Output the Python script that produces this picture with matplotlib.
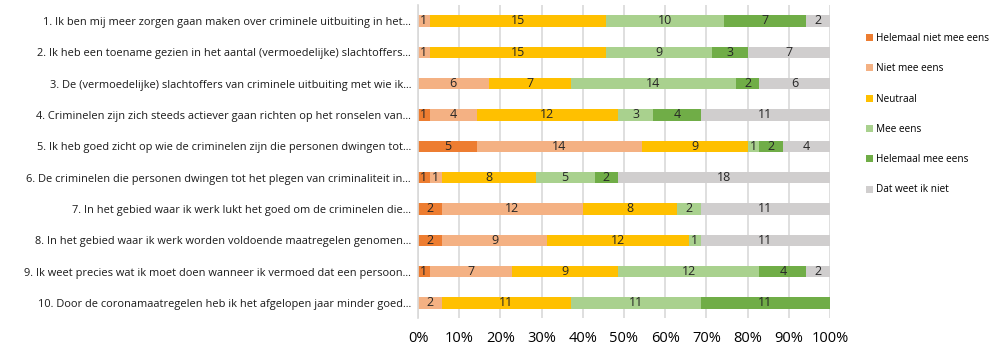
import matplotlib
matplotlib.use("Agg")
import matplotlib.pyplot as plt
import numpy as np
from matplotlib.patches import Patch

categories = [
    "1. Ik ben mij meer zorgen gaan maken over criminele uitbuiting in het...",
    "2. Ik heb een toename gezien in het aantal (vermoedelijke) slachtoffers...",
    "3. De (vermoedelijke) slachtoffers van criminele uitbuiting met wie ik...",
    "4. Criminelen zijn zich steeds actiever gaan richten op het ronselen van...",
    "5. Ik heb goed zicht op wie de criminelen zijn die personen dwingen tot...",
    "6. De criminelen die personen dwingen tot het plegen van criminaliteit in...",
    "7. In het gebied waar ik werk lukt het goed om de criminelen die...",
    "8. In het gebied waar ik werk worden voldoende maatregelen genomen...",
    "9. Ik weet precies wat ik moet doen wanneer ik vermoed dat een persoon...",
    "10. Door de coronamaatregelen heb ik het afgelopen jaar minder goed...",
]
series_names = ["Helemaal niet mee eens", "Niet mee eens", "Neutraal",
                "Mee eens", "Helemaal mee eens", "Dat weet ik niet"]
helemaal_niet = [0, 0, 0, 1, 5, 1, 2, 2, 1, 0]
niet = [1, 1, 6, 4, 14, 1, 12, 9, 7, 2]
neutraal = [15, 15, 7, 12, 9, 8, 8, 12, 9, 11]
mee = [10, 9, 14, 3, 1, 5, 2, 1, 12, 11]
helemaal_mee = [7, 3, 2, 4, 2, 2, 0, 0, 4, 11]
weet_niet = [2, 7, 6, 11, 4, 18, 11, 11, 2, 0]
tick_labels = ["0%", "10%", "20%", "30%", "40%", "50%", "60%", "70%", "80%", "90%", "100%"]

colors = ["#ED7D31", "#F4B183", "#FFC000", "#A9D18E", "#70AD47", "#D0CECE"]

plt.rcParams['font.family'] = ['Open Sans', 'DejaVu Sans']

data = np.array([helemaal_niet, niet, neutraal, mee, helemaal_mee, weet_niet], dtype=float)
totals = data.sum(axis=0)
frac = data / totals

fig = plt.figure(figsize=(9.96, 3.47), dpi=100)
ax = fig.add_axes([418/996, (347-318)/347, (830-418)/996, (318-5)/347])

y = np.arange(len(categories))
left = np.zeros(len(categories))
for i in range(len(series_names)):
    ax.barh(y, frac[i], left=left, height=0.37, color=colors[i], label=series_names[i], zorder=2)
    for j in range(len(categories)):
        if data[i, j] > 0:
            ax.text(left[j] + frac[i, j] / 2, y[j], f"{int(data[i, j])}", ha='center', va='center',
                    fontsize=9, color='#262626', zorder=3)
    left += frac[i]

ax.set_xlim(0, 1)
ax.set_ylim(9.48, -0.51)
ax.set_xticks(np.linspace(0, 1, 11))
ax.set_xticklabels(tick_labels, fontsize=10.5, color='#000000')
ax.set_yticks(y)
ax.set_yticklabels(categories, fontsize=7.9, color='#1a1a1a')
ax.tick_params(axis='both', length=0)
ax.tick_params(axis='x', pad=9)
ax.tick_params(axis='y', pad=5)
ax.grid(axis='x', color='#D9D9D9', linewidth=1.2, zorder=0)
for s in ['top', 'right', 'bottom']:
    ax.spines[s].set_visible(False)
ax.spines['left'].set_color('#D9D9D9')
ax.spines['left'].set_linewidth(1.2)

handles = [Patch(facecolor=c, edgecolor='none') for c in colors]
fig.legend(handles, series_names, loc='upper left', bbox_to_anchor=(862/996, 1 - 29/347),
           frameon=False, fontsize=7.2, labelspacing=1.93, handlelength=0.7, handleheight=0.7,
           handletextpad=0.3, borderaxespad=0)

fig.savefig("out.png", dpi=100)
